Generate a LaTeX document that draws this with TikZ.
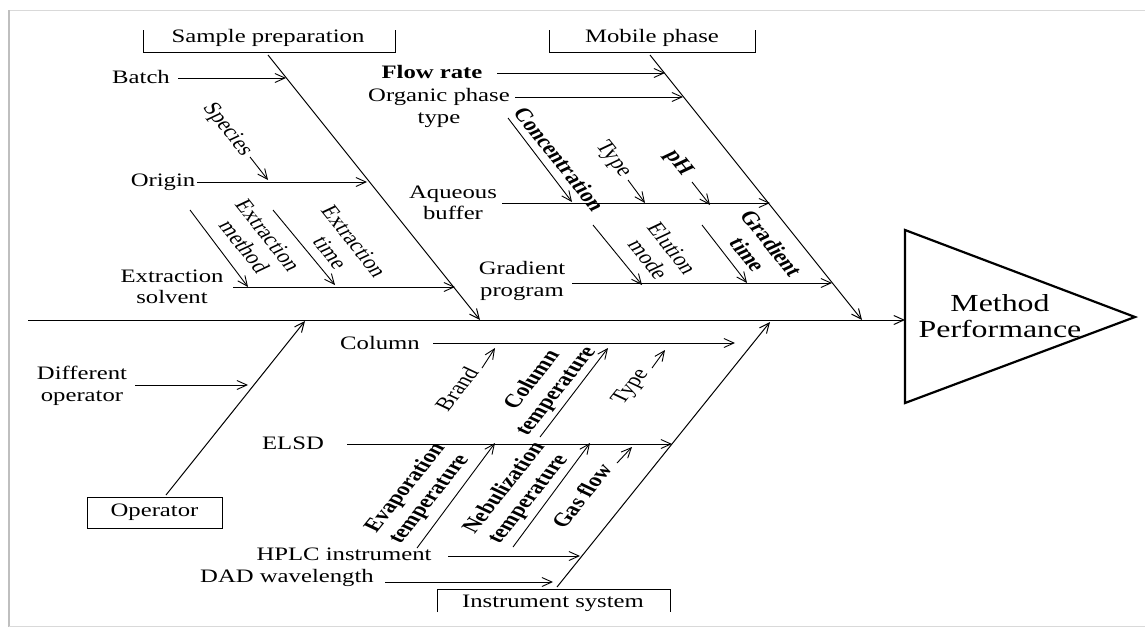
\documentclass[tikz,border=0pt]{standalone}
\usepackage{fontspec}
\usepackage{graphicx}
\setmainfont[FakeStretch=1.3]{Liberation Serif}
\newfontfamily\plainserif{Liberation Serif}
\usetikzlibrary{arrows.meta}
\newcommand{\rtext}[2]{\scalebox{1.3}[1]{\rotatebox{#1}{\plainserif\begin{tabular}{@{}c@{}}#2\end{tabular}}}}
\begin{document}
\begin{tikzpicture}[x=1pt,y=-1pt,
  lbl/.style={font=\fontsize{19}{21.5}\selectfont, inner sep=0pt, align=center},
  rlbl/.style={font=\fontsize{19}{21.5}\selectfont, inner sep=0pt},
  arr/.style={-{Straight Barb[length=10pt,width=9pt]}, line width=0.9pt},
  bone/.style={-{Straight Barb[length=10pt,width=9pt]}, line width=1pt},
  brk/.style={line width=1pt},
  frm/.style={line width=1pt, draw=black!15}]
\useasboundingbox (0,0) rectangle (1145,627);
\fill[white] (0,0) rectangle (1145,627);
% frame
\draw[frm] (9,10) -- (1145,10);
\draw[line width=2pt, draw=black!25] (9,10) -- (9,627);
\draw[frm] (9,626) -- (1145,626);

% spine and effect
\coordinate (spL) at (28,320);
\coordinate (tri) at (905,320);
\draw[bone] (spL) -- (tri);
\draw[line width=2.2pt, line join=miter] (905,230) -- (1135,317) -- (905,403) -- cycle;
\node[lbl, font=\fontsize{24.5}{26}\selectfont] (perf) at (1000,316) {Method\\Performance};

% category boxes
\draw[brk] (143,30) -- (143,52) -- (395,52) -- (395,30);
\node[lbl] (sp) at (268,38) {Sample preparation};
\draw[brk] (549,30) -- (549,52) -- (755,52) -- (755,30);
\node[lbl] (mp) at (652,38) {Mobile phase};
\node[lbl, draw, line width=1pt, minimum width=135pt, minimum height=31pt] (op) at (154.5,512.5) {Operator};
\draw[brk] (437,612) -- (437,589) -- (670,589) -- (670,612);
\node[lbl] (is) at (553,603) {Instrument system};

% main bones
\coordinate (spT) at (268,55);   \coordinate (spE) at (480,320);
\coordinate (mpT) at (650,55);   \coordinate (mpE) at (862,320);
\coordinate (opT) at (166,495);  \coordinate (opE) at (305,321);
\coordinate (isT) at (557,587);  \coordinate (isE) at (770,322);
\draw[bone] (spT) -- (spE);
\draw[bone] (mpT) -- (mpE);
\draw[bone] (opT) -- (opE);
\draw[bone] (isT) -- (isE);

% ---- Sample preparation ----
\node[lbl] (batch) at (141,77) {Batch};
\coordinate (batchS) at (178,78); \coordinate (batchE) at (286,78);
\draw[arr] (batchS) -- (batchE);
\node[lbl] (origin) at (163,182) {Origin};
\coordinate (origS) at (197,182); \coordinate (origE) at (367,182);
\draw[arr] (origS) -- (origE);
\node[rlbl] (species) at (227,130) {\rtext{-58.4}{Species}};
\coordinate (specS) at (250,157); \coordinate (specE) at (268,180);
\draw[arr] (specS) -- (specE);
\node[lbl] (exsol) at (172,287) {Extraction\\solvent};
\coordinate (exsolS) at (233,287); \coordinate (exsolE) at (455,287);
\draw[arr] (exsolS) -- (exsolE);
\node[rlbl] (exmet) at (254,242) {\rtext{-58.4}{Extraction\\method}};
\coordinate (exmetS) at (190,210); \coordinate (exmetE) at (248,287);
\draw[arr] (exmetS) -- (exmetE);
\node[rlbl] (extime) at (340,248) {\rtext{-58.4}{Extraction\\time}};
\coordinate (extimeS) at (273,210); \coordinate (extimeE) at (335,285);
\draw[arr] (extimeS) -- (extimeE);

% ---- Mobile phase ----
\node[lbl, font=\fontsize{19}{21.5}\selectfont\bfseries] (flow) at (432,72) {Flow rate};
\coordinate (flowS) at (497,73); \coordinate (flowE) at (665,73);
\draw[arr] (flowS) -- (flowE);
\node[lbl] (org) at (439,108) {Organic phase\\type};
\coordinate (orgS) at (515,97); \coordinate (orgE) at (683,97);
\draw[arr] (orgS) -- (orgE);
\node[lbl] (aq) at (453,203) {Aqueous\\buffer};
\coordinate (aqS) at (502,203); \coordinate (aqE) at (770,203);
\draw[arr] (aqS) -- (aqE);
\node[rlbl] (conc) at (557,160) {\rtext{-58.4}{\bfseries Concentration}};
\coordinate (concS) at (508,118); \coordinate (concE) at (572,202);
\draw[arr] (concS) -- (concE);
\node[rlbl] (typeA) at (613,159) {\rtext{-58.4}{Type}};
\coordinate (typeAS) at (628,180); \coordinate (typeAE) at (645,203);
\draw[arr] (typeAS) -- (typeAE);
\node[rlbl] (ph) at (678,163) {\rtext{-58.4}{\bfseries pH}};
\coordinate (phS) at (692,182); \coordinate (phE) at (710,205);
\draw[arr] (phS) -- (phE);
\node[lbl] (grad) at (522,281) {Gradient\\program};
\coordinate (gradS) at (572,283); \coordinate (gradE) at (832,283);
\draw[arr] (gradS) -- (gradE);
\node[rlbl] (elu) at (658,255) {\rtext{-58.4}{Elution\\mode}};
\coordinate (eluS) at (593,225); \coordinate (eluE) at (642,285);
\draw[arr] (eluS) -- (eluE);
\node[rlbl] (gtime) at (757,250) {\rtext{-58.4}{\bfseries Gradient\\\bfseries time}};
\coordinate (gtimeS) at (702,225); \coordinate (gtimeE) at (747,283);
\draw[arr] (gtimeS) -- (gtimeE);

% ---- Operator ----
\node[lbl] (diff) at (82,386) {Different\\operator};
\coordinate (diffS) at (135,385); \coordinate (diffE) at (248,385);
\draw[arr] (diffS) -- (diffE);

% ---- Instrument system ----
\node[lbl] (col) at (380,343) {Column};
\coordinate (colS) at (433,343); \coordinate (colE) at (735,343);
\draw[arr] (colS) -- (colE);
\node[rlbl] (brand) at (459,390) {\rtext{58.4}{Brand}};
\coordinate (brandS) at (482,368); \coordinate (brandE) at (495,348);
\draw[arr] (brandS) -- (brandE);
\node[rlbl] (coltemp) at (545,386) {\rtext{58.4}{\bfseries Column\\\bfseries temperature}};
\coordinate (coltempS) at (540,437); \coordinate (coltempE) at (608,348);
\draw[arr] (coltempS) -- (coltempE);
\node[rlbl] (typeB) at (631,387) {\rtext{58.4}{Type}};
\coordinate (typeBS) at (652,368); \coordinate (typeBE) at (665,350);
\draw[arr] (typeBS) -- (typeBE);
\node[lbl] (elsd) at (293,443) {ELSD};
\coordinate (elsdS) at (347,444); \coordinate (elsdE) at (672,444);
\draw[arr] (elsdS) -- (elsdE);
\node[rlbl] (evap) at (418,494) {\rtext{58.4}{\bfseries Evaporation\\\bfseries temperature}};
\coordinate (evapS) at (417,548); \coordinate (evapE) at (495,443);
\draw[arr] (evapS) -- (evapE);
\node[rlbl] (neb) at (517,494) {\rtext{58.4}{\bfseries Nebulization\\\bfseries temperature}};
\coordinate (nebS) at (513,547); \coordinate (nebE) at (590,443);
\draw[arr] (nebS) -- (nebE);
\node[rlbl] (gas) at (584,497) {\rtext{58.4}{\bfseries Gas flow}};
\coordinate (gasS) at (617,463); \coordinate (gasE) at (632,447);
\draw[arr] (gasS) -- (gasE);
\node[lbl] (hplc) at (344,554) {HPLC instrument};
\coordinate (hplcS) at (448,556); \coordinate (hplcE) at (580,556);
\draw[arr] (hplcS) -- (hplcE);
\node[lbl] (dad) at (287,578) {DAD wavelength};
\coordinate (dadS) at (385,582); \coordinate (dadE) at (553,582);
\draw[arr] (dadS) -- (dadE);
\end{tikzpicture}
\end{document}
